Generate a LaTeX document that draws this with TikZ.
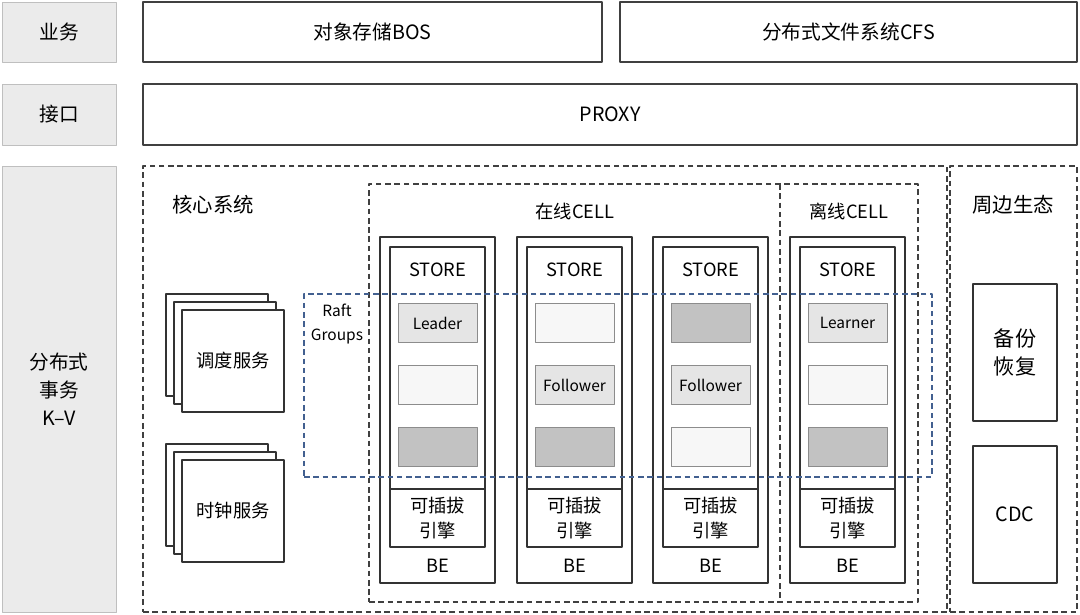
\documentclass[tikz,border=0pt]{standalone}
\usepackage{fontspec}
\setmainfont{Noto Sans CJK SC}
\usetikzlibrary{positioning}
\definecolor{raftblue}{RGB}{66,96,144}

\begin{document}
\begin{tikzpicture}[x=0.025cm, y=-0.025cm, line join=round,
    sz/.style 2 args={minimum width=#1*0.025cm, minimum height=#2*0.025cm, inner sep=0pt, outer sep=0pt},
    tag/.style={draw=black!25, fill=black!8, font=\fontsize{14}{20}\selectfont, align=center},
    layer/.style={draw=black!75, line width=0.9pt, font=\fontsize{14}{19}\selectfont, align=center},
    zone/.style={draw=black!75, line width=0.8pt, dash pattern=on 4pt off 2.6pt},
    plain/.style={draw=black!80, line width=0.8pt, fill=white, font=\fontsize{13}{18}\selectfont, align=center},
    role/.style={draw=black!45, line width=0.6pt, fill=black!10, font=\fontsize{11}{13}\selectfont},
    idle/.style={draw=black!45, line width=0.6pt, fill=black!3},
    busy/.style={draw=black!45, line width=0.6pt, fill=black!24},
    title/.style={font=\fontsize{14.5}{17}\selectfont}]
  \useasboundingbox (0,0) rectangle (1080,614);

  % top layers
  \node[tag, sz={114}{60}] (biz) at (59,32) {业务};
  \node[layer, sz={459}{60}] (bos) at (372.5,32) {对象存储BOS};
  \node[layer, sz={457}{60}] (cfs) at (848.5,32) {分布式文件系统CFS};
  \node[tag, sz={114}{61}] (api) at (59,114.5) {接口};
  \node[layer, sz={934}{61}] (proxy) at (610,114.5) {PROXY};
  \node[tag, sz={114}{446}] (kv) at (59,389) {分布式\\事务\\K--V};

  % dashed zones
  \node[zone, sz={804}{446}] (core) at (545,389) {};
  \node[zone, sz={127}{446}] (eco) at (1013.5,389) {};
  \node[zone, sz={549}{418}] (cells) at (643.5,393) {};
  \coordinate (split top) at (780,184);
  \coordinate (split bot) at (780,602);
  \draw[zone] (split top) -- (split bot);
  \node[title] (coretxt) at (213,205) {核心系统};
  \node[title] (ecotxt) at (1013,205) {周边生态};
  \node[font=\fontsize{13}{15}\selectfont] (onlinetxt) at (575,211) {在线CELL};
  \node[font=\fontsize{13}{15}\selectfont] (offlinetxt) at (849,211) {离线CELL};

  % stacked services
  \foreach \d in {0,8,16} {
    \node[plain, sz={102}{102}] (sched\d) at (217+\d,345+\d) {};
    \node[plain, sz={102}{102}] (clock\d) at (217+\d,495+\d) {};
  }
  \node[font=\fontsize{13}{15}\selectfont] at (sched16) {调度服务};
  \node[font=\fontsize{13}{15}\selectfont] at (clock16) {时钟服务};

  % BE columns
  \foreach \c/\x in {1/380,2/517,3/653,4/790} {
    \node[plain, sz={115}{346}, anchor=north west] (be\c) at (\x,237) {};
    \node[plain, sz={95}{242}, anchor=north west] (store\c) at (\x+10,247) {};
    \node[plain, sz={95}{58}, anchor=north west] (engine\c) at (\x+10,489) {可插拔\\引擎};
    \node[font=\fontsize{13}{15}\selectfont] (storetxt\c) at (\x+57.5,270) {STORE};
    \node[font=\fontsize{13}{15}\selectfont] (betxt\c) at (\x+57.5,566) {BE};
  }

  % replicas
  \foreach \c/\x/\r/\y/\kind/\txt in {
      1/380/1/323/role/Leader, 1/380/2/385/idle/, 1/380/3/447/busy/,
      2/517/1/323/idle/, 2/517/2/385/role/Follower, 2/517/3/447/busy/,
      3/653/1/323/busy/, 3/653/2/385/role/Follower, 3/653/3/447/idle/,
      4/790/1/323/role/Learner, 4/790/2/385/idle/, 4/790/3/447/busy/} {
    \node[\kind, sz={79}{39}] (rep\c\r) at (\x+57.5,\y) {\txt};
  }

  % peripheral services
  \node[plain, sz={84}{137}, anchor=north west, font=\fontsize{15}{20}\selectfont] (backup) at (973,284) {备份\\恢复};
  \node[plain, sz={84}{137}, anchor=north west, font=\fontsize{14}{18}\selectfont] (cdc) at (973,446) {CDC};

  % raft groups
  \node[draw=raftblue, line width=0.8pt, dash pattern=on 4pt off 2.6pt, sz={628}{183}] (raft) at (618,385.5) {};
  \node[font=\fontsize{11}{17}\selectfont, align=center, anchor=north] (rafttxt) at (337,299) {Raft\\Groups};
\end{tikzpicture}
\end{document}
